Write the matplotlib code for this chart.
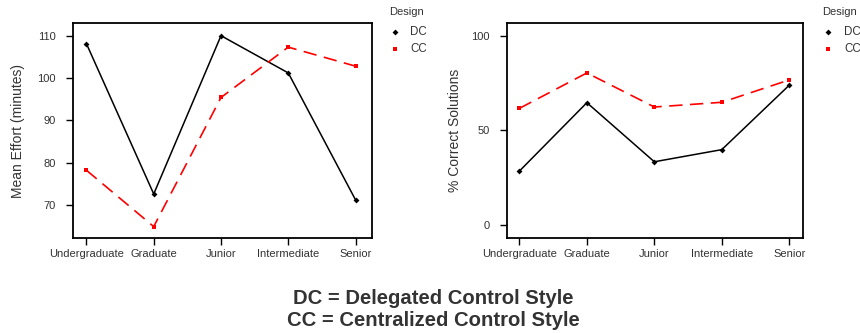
import matplotlib
matplotlib.use("Agg")
import matplotlib.pyplot as plt
from matplotlib.lines import Line2D

plt.rcParams['font.family'] = ['Liberation Sans', 'DejaVu Sans']

levels = ["Undergraduate", "Graduate", "Junior", "Intermediate", "Senior"]

effort_dc = [108.1, 72.6, 110.0, 101.2, 71.2]
effort_cc = [78.2, 64.9, 95.4, 107.3, 102.8]
effort_ticks = [70, 80, 90, 100, 110]

correct_dc = [28.5, 64.6, 33.4, 39.8, 73.8]
correct_cc = [61.6, 80.3, 62.3, 64.8, 76.6]
correct_ticks = [0, 50, 100]

groups = ["DC", "CC"]
footnote = ["DC = Delegated Control Style", "CC = Centralized Control Style"]

TXT = "#333333"
W, H = 860, 333
fig = plt.figure(figsize=(W / 100, H / 100), dpi=100)


def px_box(x0, y0, x1, y1):
    return [x0 / W, 1 - y1 / H, (x1 - x0) / W, (y1 - y0) / H]


def panel(rect, dc, cc, ticks, ylim, xlim, ylabel, ylab_x):
    ax = fig.add_axes(rect)
    x = list(range(len(levels)))
    ax.plot(x, dc, color="black", lw=1.1, marker="D", ms=3.0,
            markeredgewidth=0)
    ax.plot(x, cc, color="#ff0000", lw=1.2, dashes=(8, 4.5), marker="s",
            ms=2.8, markeredgewidth=0)
    ax.set_xlim(*xlim)
    ax.set_ylim(*ylim)
    ax.set_xticks(x)
    ax.set_xticklabels(levels)
    ax.set_yticks(ticks)
    ax.set_yticklabels([str(t) for t in ticks])
    ax.tick_params(axis="both", labelsize=8, labelcolor=TXT, length=5,
                   width=1.0, direction="out")
    ax.tick_params(axis="x", pad=3)
    ax.tick_params(axis="y", pad=7.5)
    for s in ax.spines.values():
        s.set_linewidth(1.3)
    fig.text(ylab_x / W, rect[1] + rect[3] / 2, ylabel, rotation=90,
             ha="center", va="center", fontsize=10, color=TXT)
    return ax


panel(px_box(73, 23, 371.7, 238), effort_dc, effort_cc, effort_ticks,
      (62.2, 113.0), (-0.2, 4.24), "Mean Effort (minutes)", 18)
panel(px_box(507.3, 23.3, 802.7, 238.3), correct_dc, correct_cc,
      correct_ticks, (-7.0, 106.5), (-0.18, 4.2), "% Correct Solutions", 455)


def legend_block(x_title, x_mark, x_label):
    fig.text(x_title / W, 1 - 12 / H, "Design", fontsize=8, color=TXT,
             ha="left", va="center")
    styles = [("black", "D", 3.0), ("#ff0000", "s", 2.8)]
    for (col, mk, ms), name, y in zip(styles, groups, [32, 49]):
        fig.add_artist(Line2D([x_mark / W], [1 - y / H], color=col,
                              marker=mk, ms=ms, markeredgewidth=0,
                              linestyle="none", transform=fig.transFigure))
        fig.text(x_label / W, 1 - y / H, name, fontsize=8.3, color=TXT,
                 ha="left", va="center")


legend_block(389, 395, 410)
legend_block(821.7, 827.7, 844)

for line, y in zip(footnote, [298, 320]):
    fig.text(433 / W, 1 - y / H, line, fontsize=14.6, fontweight="bold",
             color=TXT, ha="center", va="center")

fig.savefig("out.png", dpi=100)
